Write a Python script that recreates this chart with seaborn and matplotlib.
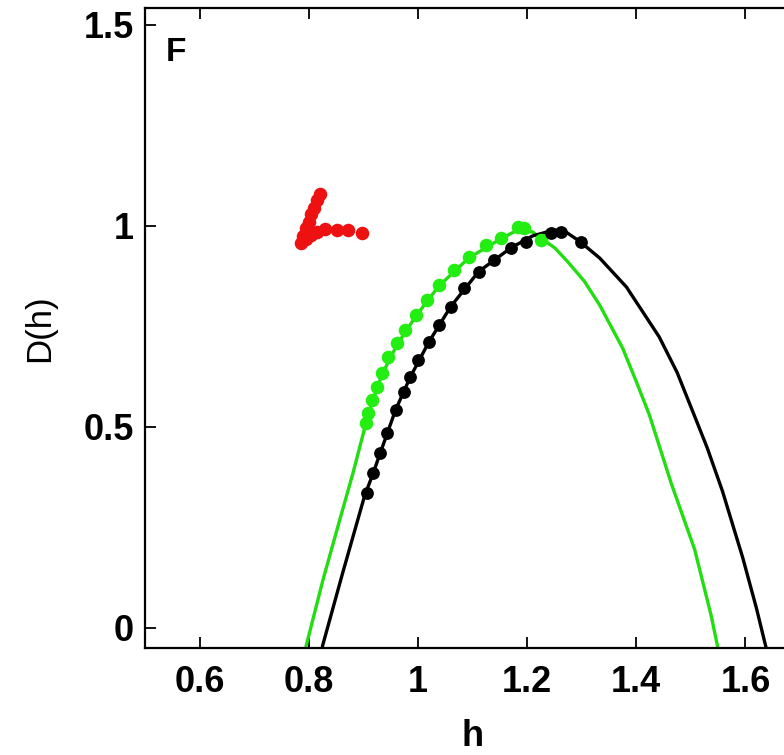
import matplotlib
matplotlib.use("Agg")
import matplotlib.pyplot as plt
import seaborn as sns
import pandas as pd

# ---- data ----
black_curve_h = [0.825, 0.862, 0.902, 0.918, 0.931, 0.959, 0.986, 1.020, 1.060, 1.111,
                 1.170, 1.210, 1.250, 1.272, 1.296, 1.333, 1.382, 1.442, 1.475, 1.503,
                 1.530, 1.558, 1.595, 1.620, 1.638]
black_curve_d = [-0.046, 0.136, 0.327, 0.385, 0.435, 0.542, 0.624, 0.711, 0.799, 0.886,
                 0.945, 0.975, 0.990, 0.984, 0.962, 0.920, 0.848, 0.724, 0.635, 0.540,
                 0.448, 0.340, 0.175, 0.050, -0.050]

green_curve_h = [0.795, 0.826, 0.856, 0.881, 0.904, 0.916, 0.934, 0.962, 0.996, 1.038,
                 1.093, 1.152, 1.183, 1.210, 1.226, 1.251, 1.275, 1.305, 1.333, 1.375,
                 1.400, 1.424, 1.464, 1.507, 1.537, 1.549]
green_curve_d = [-0.046, 0.119, 0.265, 0.385, 0.505, 0.560, 0.630, 0.705, 0.775, 0.850,
                 0.920, 0.968, 0.990, 0.985, 0.969, 0.945, 0.910, 0.862, 0.803, 0.696,
                 0.613, 0.530, 0.360, 0.195, 0.032, -0.046]

black_pts_h = [0.907, 0.918, 0.931, 0.943, 0.959, 0.974, 0.986, 1.001, 1.020, 1.038,
               1.060, 1.084, 1.111, 1.139, 1.170, 1.198, 1.244, 1.262, 1.299]
black_pts_d = [0.336, 0.385, 0.435, 0.485, 0.542, 0.587, 0.624, 0.667, 0.711, 0.754,
               0.799, 0.846, 0.886, 0.915, 0.945, 0.960, 0.982, 0.985, 0.960]

green_pts_h = [0.904, 0.909, 0.916, 0.925, 0.934, 0.946, 0.962, 0.977, 0.996, 1.017,
               1.038, 1.066, 1.093, 1.124, 1.152, 1.183, 1.194, 1.226]
green_pts_d = [0.510, 0.535, 0.567, 0.600, 0.634, 0.675, 0.709, 0.741, 0.779, 0.816,
               0.853, 0.891, 0.923, 0.953, 0.970, 0.998, 0.995, 0.965]

red_pts_h = [0.785, 0.790, 0.795, 0.800, 0.805, 0.810, 0.815, 0.820,
             0.795, 0.805, 0.815, 0.830, 0.852, 0.872, 0.898]
red_pts_d = [0.958, 0.975, 0.995, 1.010, 1.030, 1.045, 1.065, 1.080,
             0.968, 0.978, 0.985, 0.993, 0.990, 0.990, 0.982]

x_ticks = [0.6, 0.8, 1.0, 1.2, 1.4, 1.6]
x_tick_labels = ["0.6", "0.8", "1", "1.2", "1.4", "1.6"]
y_ticks = [0, 0.5, 1, 1.5]
y_tick_labels = ["0", "0.5", "1", "1.5"]

sns.set_theme(style="ticks")
plt.rcParams['font.family'] = ['Liberation Sans', 'DejaVu Sans']
plt.rcParams['text.color'] = 'black'
plt.rcParams['axes.labelcolor'] = 'black'

fig = plt.figure(figsize=(7.84, 7.55), dpi=100)
ax = fig.add_axes([145 / 784, 107 / 755, 655 / 784, 640 / 755])

black_curve = pd.DataFrame({"h": black_curve_h, "D": black_curve_d})
green_curve = pd.DataFrame({"h": green_curve_h, "D": green_curve_d})
black_pts = pd.DataFrame({"h": black_pts_h, "D": black_pts_d})
green_pts = pd.DataFrame({"h": green_pts_h, "D": green_pts_d})
red_pts = pd.DataFrame({"h": red_pts_h, "D": red_pts_d})

sns.lineplot(data=green_curve, x="h", y="D", sort=False, color="#22dd11", lw=2.4, ax=ax)
sns.lineplot(data=black_curve, x="h", y="D", sort=False, color="black", lw=2.4, ax=ax)
sns.scatterplot(data=green_pts, x="h", y="D", color="#22ee11", s=95, linewidth=0, ax=ax, zorder=3)
sns.scatterplot(data=black_pts, x="h", y="D", color="black", s=85, linewidth=0, ax=ax, zorder=4)
sns.scatterplot(data=red_pts, x="h", y="D", color="#ee1111", s=95, linewidth=0, ax=ax, zorder=4)

ax.set_xlim(0.5, 1.7)
ax.set_ylim(-0.05, 1.542)
ax.set_xticks(x_ticks)
ax.set_xticklabels(x_tick_labels)
ax.set_yticks(y_ticks)
ax.set_yticklabels(y_tick_labels)
ax.tick_params(direction="in", length=8, width=1.3, top=True, right=True,
               labelsize=26, colors="black")
ax.tick_params(axis="x", pad=12)
ax.tick_params(axis="y", pad=8)
for lab in ax.get_xticklabels() + ax.get_yticklabels():
    lab.set_fontweight("bold")
for sp in ax.spines.values():
    sp.set_linewidth(1.6)
    sp.set_color("black")

ax.set_xlabel("h", fontsize=26, fontweight="bold", labelpad=14)
ax.set_ylabel("D(h)", fontsize=25, labelpad=20)
ax.text(0.031, 0.955, "F", transform=ax.transAxes, fontsize=24, fontweight="bold",
        va="top", ha="left")

fig.savefig("out.png", dpi=100)
